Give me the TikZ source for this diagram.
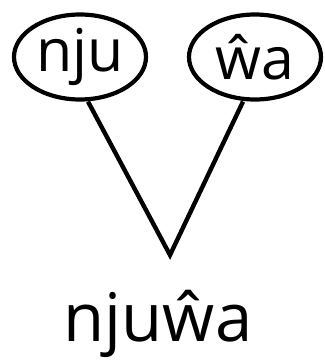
\documentclass[tikz,border=0pt]{standalone}
\usepackage{fontspec}
\setmainfont{Open Sans}
\usetikzlibrary{positioning,shapes.geometric}
\tikzset{
  part/.style={draw,ellipse,line width=4.2pt,inner sep=0pt,
    minimum width=132pt,minimum height=85pt,font=\fontsize{59}{66}\selectfont},
  branch/.style={line width=4.4pt},
  whole/.style={font=\fontsize{67}{74}\selectfont,inner sep=0pt}
}

\begin{document}
\begin{tikzpicture}[x=1pt,y=-1pt]
  \useasboundingbox (0,0) rectangle (324,361);
  \node[part] (nju) at (80,57) {nju};
  \node[part] (wa) at (255,57) {ŵa};
  \coordinate (join) at (170,255);
  \path (nju.south) ++(8,0) coordinate (njufoot);
  \path (wa.south) ++(-12,0) coordinate (wafoot);
  \draw[branch,line join=miter] (njufoot) -- (join) -- (wafoot);
  \node[whole,anchor=base] (word) at (158,341) {njuŵa};
\end{tikzpicture}
\end{document}
